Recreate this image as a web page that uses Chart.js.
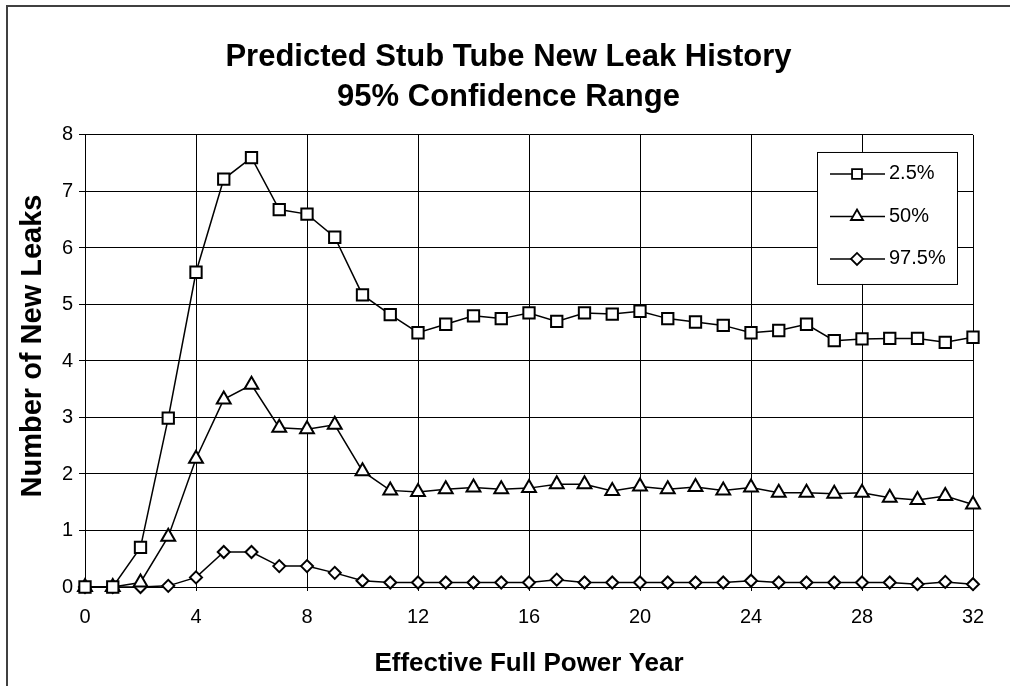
<!DOCTYPE html>
<html>
<head>
<meta charset="utf-8">
<script src="https://cdn.jsdelivr.net/npm/chart.js@4.4.1/dist/chart.umd.min.js"></script>
<style>
    html, body { margin: 0; padding: 0; background: #fff; }
    #wrap { width: 1010px; height: 686px; position: relative; }
</style>
</head>
<body>
<div id="wrap"><canvas id="leakChart" width="1010" height="686"></canvas></div>
<script>
// data
var years = [0, 1, 2, 3, 4, 5, 6, 7, 8, 9, 10, 11, 12, 13, 14, 15, 16,
             17, 18, 19, 20, 21, 22, 23, 24, 25, 26, 27, 28, 29, 30, 31, 32];
var leaks025 = [0, 0, 0.70, 2.99, 5.57, 7.22, 7.60, 6.68, 6.60, 6.19, 5.17, 4.82, 4.50, 4.65, 4.80, 4.75, 4.85,
                4.70, 4.85, 4.83, 4.88, 4.75, 4.69, 4.63, 4.50, 4.54, 4.65, 4.36, 4.39, 4.40, 4.40, 4.33, 4.42];
var leaks50 = [0, 0, 0.08, 0.89, 2.27, 3.32, 3.58, 2.82, 2.79, 2.87, 2.05, 1.71, 1.68, 1.73, 1.76, 1.73, 1.75,
               1.82, 1.82, 1.70, 1.78, 1.73, 1.77, 1.71, 1.76, 1.67, 1.67, 1.65, 1.67, 1.58, 1.54, 1.61, 1.46];
var leaks975 = [0, 0, 0.00, 0.02, 0.17, 0.62, 0.62, 0.37, 0.37, 0.25, 0.11, 0.08, 0.08, 0.08, 0.08, 0.08, 0.08,
                0.13, 0.08, 0.08, 0.08, 0.08, 0.08, 0.08, 0.11, 0.08, 0.08, 0.08, 0.08, 0.08, 0.05, 0.09, 0.05];
var seriesNames = ['2.5%', '50%', '97.5%'];
var xTickValues = [0, 4, 8, 12, 16, 20, 24, 28, 32];
var yTickValues = [0, 1, 2, 3, 4, 5, 6, 7, 8];

var fontFamily = "'Liberation Sans', Arial, sans-serif";

function toPoints(values) {
    return years.map(function (year, i) { return { x: year, y: values[i] }; });
}

function makeSeries(label, values, style, radius) {
    return {
        label: label,
        data: toPoints(values),
        borderColor: '#000',
        borderWidth: 1.5,
        pointStyle: style,
        pointRadius: radius,
        pointBorderWidth: 2,
        pointBorderColor: '#000',
        pointBackgroundColor: '#fff',
        tension: 0,
        clip: false
    };
}

// small marker drawer for the legend
function drawMarker(ctx, style, x, y, r) {
    ctx.beginPath();
    if (style === 'rect') {
        var s = r * Math.SQRT1_2;
        ctx.rect(x - s, y - s, 2 * s, 2 * s);
    } else if (style === 'triangle') {
        ctx.moveTo(x, y - r);
        ctx.lineTo(x + r * 0.866, y + r * 0.5);
        ctx.lineTo(x - r * 0.866, y + r * 0.5);
        ctx.closePath();
    } else {
        ctx.moveTo(x - r, y);
        ctx.lineTo(x, y - r);
        ctx.lineTo(x + r, y);
        ctx.lineTo(x, y + r);
        ctx.closePath();
    }
    ctx.fillStyle = '#fff';
    ctx.fill();
    ctx.stroke();
}

var decorPlugin = {
    id: 'decor',
    beforeDraw: function (chart) {
        var ctx = chart.ctx;
        ctx.save();
        ctx.fillStyle = '#fff';
        ctx.fillRect(0, 0, chart.width, chart.height);
        // outer frame (left and top only are visible)
        ctx.strokeStyle = '#404040';
        ctx.lineWidth = 2;
        ctx.beginPath();
        ctx.moveTo(7, chart.height);
        ctx.lineTo(7, 6);
        ctx.lineTo(chart.width, 6);
        ctx.stroke();
        ctx.restore();
    },
    afterDraw: function (chart) {
        var ctx = chart.ctx;
        var area = chart.chartArea;
        ctx.save();

        // y axis title
        ctx.translate(33, (area.top + area.bottom) / 2 - 15);
        ctx.rotate(-Math.PI / 2);
        ctx.font = 'bold 29px ' + fontFamily;
        ctx.fillStyle = '#000';
        ctx.textAlign = 'center';
        ctx.textBaseline = 'middle';
        ctx.fillText('Number of New Leaks', 0, 0);
        ctx.restore();

        // legend box inside the plot
        ctx.save();
        var left = area.right - 156, top = area.top + 17, w = 140, h = 132;
        ctx.fillStyle = '#fff';
        ctx.fillRect(left, top, w, h);
        ctx.strokeStyle = '#000';
        ctx.lineWidth = 1;
        ctx.strokeRect(left + 0.5, top + 0.5, w, h);
        ctx.font = '20px ' + fontFamily;
        ctx.textBaseline = 'middle';
        chart.data.datasets.forEach(function (ds, i) {
            var y = top + 22 + i * 42.5;
            ctx.strokeStyle = '#000';
            ctx.lineWidth = 1.5;
            ctx.beginPath();
            ctx.moveTo(left + 13, y);
            ctx.lineTo(left + 68, y);
            ctx.stroke();
            ctx.lineWidth = 1.8;
            drawMarker(ctx, ds.pointStyle, left + 40, y, ds.pointStyle === 'rectRot' ? 6 : 7);
            ctx.fillStyle = '#000';
            ctx.fillText(ds.label, left + 72, y);
        });
        ctx.restore();
    }
};

var ctx = document.getElementById('leakChart').getContext('2d');
var leakChart = new Chart(ctx, {
    type: 'line',
    data: {
        datasets: [
            makeSeries(seriesNames[0], leaks025, 'rect', 8),
            makeSeries(seriesNames[1], leaks50, 'triangle', 8),
            makeSeries(seriesNames[2], leaks975, 'rectRot', 6)
        ]
    },
    options: {
        responsive: false,
        animation: false,
        layout: { padding: { left: 7, top: 0, right: 0, bottom: 0 } },
        plugins: {
            legend: { display: false },
            tooltip: { enabled: false },
            title: {
                display: true,
                text: ['Predicted Stub Tube New Leak History', '95% Confidence Range'],
                color: '#000',
                font: { family: fontFamily, size: 31, weight: 'bold', lineHeight: 1.29 },
                padding: { top: 37, bottom: 18 }
            }
        },
        scales: {
            x: {
                type: 'linear',
                min: 0,
                max: 32,
                afterBuildTicks: function (scale) {
                    scale.ticks = xTickValues.map(function (v) { return { value: v }; });
                },
                afterFit: function (scale) { scale.height = 99; },
                grid: { color: '#000', lineWidth: 1, tickLength: 4 },
                border: { color: '#000', width: 1 },
                ticks: {
                    color: '#000',
                    padding: 14,
                    maxRotation: 0,
                    font: { family: fontFamily, size: 20 }
                },
                title: {
                    display: true,
                    text: 'Effective Full Power Year',
                    color: '#000',
                    font: { family: fontFamily, size: 26, weight: 'bold' },
                    padding: { top: 0, bottom: 7 }
                }
            },
            y: {
                min: 0,
                max: 8,
                afterBuildTicks: function (scale) {
                    scale.ticks = yTickValues.map(function (v) { return { value: v }; });
                },
                afterFit: function (scale) { scale.width = 78; },
                grid: { color: '#000', lineWidth: 1, tickLength: 6 },
                border: { color: '#000', width: 1 },
                ticks: {
                    color: '#000',
                    padding: 6,
                    font: { family: fontFamily, size: 20 }
                }
            },
            yRight: {
                position: 'right',
                display: true,
                afterFit: function (scale) { scale.width = 37; },
                grid: { display: false, drawTicks: false },
                border: { display: false },
                ticks: { display: false }
            }
        }
    },
    plugins: [decorPlugin]
});
</script>
</body>
</html>
